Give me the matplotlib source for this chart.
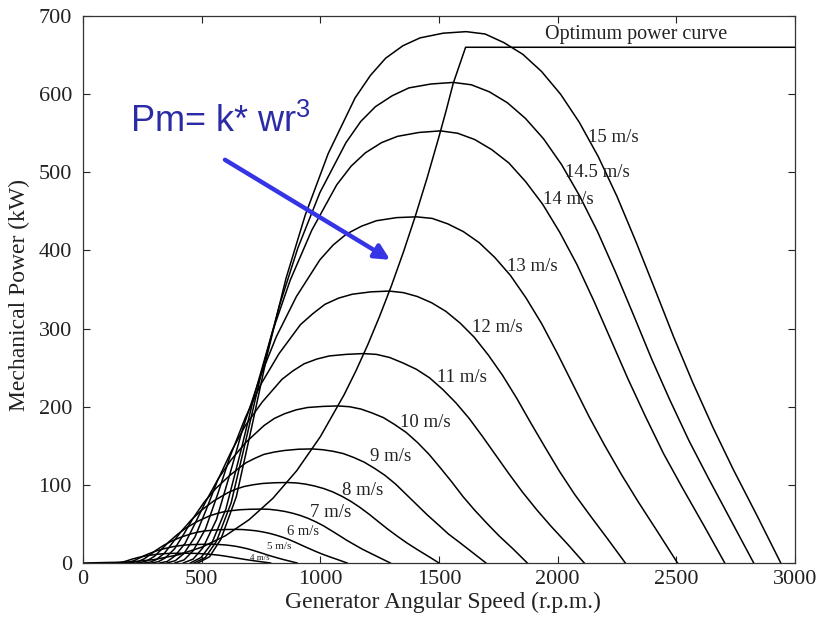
import matplotlib
matplotlib.use('Agg')
import matplotlib.pyplot as plt

plt.rcParams['font.family'] = ['Liberation Serif', 'DejaVu Serif']
plt.rcParams['mathtext.fontset'] = 'custom'
plt.rcParams['mathtext.rm'] = 'Liberation Sans'
plt.rcParams['mathtext.default'] = 'regular'

# power curves: rpm -> kW, one pair of lists per wind speed
rpm_15 = [484, 533, 581, 646, 710, 775, 855, 936, 1033, 1146, 1211, 1275, 1348, 1420, 1517, 1614,
          1694, 1773, 1853, 1932, 2012, 2091, 2171, 2250, 2330, 2410, 2489, 2569, 2655, 2741, 2841, 2940]
kw_15 = [0, 8, 30.6, 85, 173, 265, 364, 445, 524, 595, 624, 646, 662, 672, 678, 680,
         677, 666, 651, 629, 600, 564, 520, 469, 411, 350, 289, 231, 173, 119, 60, 0]

rpm_145 = [468, 515, 562, 624, 686, 749, 827, 905, 998, 1108, 1170, 1232, 1303, 1373, 1466, 1560,
           1636, 1712, 1788, 1864, 1940, 2016, 2092, 2168, 2244, 2320, 2396, 2472, 2554, 2636, 2731, 2826]
kw_145 = [0, 7, 27.7, 76.9, 157, 240, 329, 403, 474, 538, 565, 584, 598, 608, 613, 615,
          612, 603, 589, 569, 543, 510, 470, 424, 372, 317, 261, 209, 156, 108, 54, 0]

rpm_14 = [452, 497, 542, 602, 663, 723, 798, 873, 964, 1069, 1130, 1190, 1258, 1325, 1416, 1506,
          1578, 1650, 1722, 1794, 1865, 1937, 2009, 2081, 2153, 2225, 2297, 2369, 2446, 2524, 2614, 2704]
kw_14 = [0, 7, 24.9, 69.1, 141, 216, 296, 362, 426, 484, 508, 525, 538, 546, 551, 553,
         550, 542, 529, 512, 488, 459, 423, 382, 335, 285, 235, 188, 140, 97, 49, 0]

rpm_13 = [422, 464, 506, 562, 618, 674, 745, 815, 899, 998, 1054, 1110, 1173, 1236, 1321, 1405,
          1471, 1537, 1603, 1669, 1735, 1801, 1867, 1933, 1999, 2065, 2131, 2197, 2269, 2340, 2423, 2505]
kw_13 = [0, 5, 19.9, 55.4, 113, 173, 237, 290, 341, 388, 407, 421, 431, 438, 442, 443,
         441, 434, 424, 410, 391, 368, 339, 306, 268, 228, 188, 151, 113, 78, 39, 0]

rpm_12 = [387, 426, 464, 516, 568, 619, 684, 748, 826, 916, 968, 1019, 1077, 1135, 1213, 1290,
          1350, 1409, 1469, 1529, 1589, 1648, 1708, 1768, 1827, 1887, 1947, 2006, 2071, 2136, 2210, 2285]
kw_12 = [0, 4, 15.7, 43.5, 88.7, 136, 186, 228, 268, 305, 319, 331, 339, 344, 347, 348,
         346, 341, 333, 322, 307, 289, 266, 240, 211, 179, 148, 118, 88, 61, 31, 0]

rpm_11 = [354, 389, 425, 472, 519, 566, 625, 684, 755, 838, 885, 932, 985, 1038, 1109, 1180,
          1236, 1292, 1348, 1404, 1460, 1516, 1571, 1627, 1683, 1739, 1795, 1851, 1912, 1972, 2042, 2112]
kw_11 = [0, 3, 12.1, 33.5, 68.3, 105, 143, 176, 206, 235, 246, 255, 261, 265, 267, 268,
         267, 263, 256, 248, 237, 222, 205, 185, 162, 138, 114, 91, 68, 47, 24, 0]

rpm_10 = [323, 355, 387, 430, 473, 516, 570, 624, 688, 763, 806, 849, 898, 946, 1011, 1075,
          1123, 1171, 1218, 1266, 1314, 1362, 1410, 1458, 1505, 1553, 1601, 1649, 1701, 1752, 1812, 1872]
kw_10 = [0, 2, 9.0, 25.1, 51.3, 78, 108, 132, 155, 176, 185, 191, 196, 199, 200.4, 201,
         200, 197, 192, 186, 177, 167, 154, 139, 122, 104, 85, 68, 51, 35, 18, 0]

rpm_9 = [290, 318, 347, 386, 425, 463, 511, 560, 618, 685, 724, 762, 806, 849, 907, 965,
         1009, 1053, 1097, 1141, 1185, 1229, 1273, 1317, 1361, 1405, 1449, 1493, 1540, 1588, 1643, 1698]
kw_9 = [0, 1.8, 6.6, 18.3, 37.2, 57, 78.1, 95.6, 112, 128, 134, 139, 142, 144, 145.6, 146,
        145, 143, 140, 135, 129, 121, 112, 101, 88, 75, 62, 50, 37, 26, 13, 0]

rpm_8 = [258, 284, 310, 344, 378, 413, 456, 499, 550, 611, 645, 679, 718, 757, 808, 860,
         898, 937, 975, 1014, 1052, 1090, 1129, 1167, 1206, 1244, 1282, 1321, 1362, 1404, 1452, 1500]
kw_8 = [0, 1.2, 4.6, 12.9, 26.3, 40.2, 55.1, 67.5, 79.3, 90.1, 94.6, 97.9, 100.2, 101.8, 102.7, 103,
        102.5, 101, 98.6, 95.3, 91, 85.5, 78.8, 71.1, 62.3, 53, 43.8, 35, 26.2, 18, 9.1, 0]

rpm_7 = [226, 248, 271, 301, 331, 361, 399, 436, 481, 534, 564, 594, 628, 662, 707, 752,
         785, 817, 850, 882, 915, 947, 980, 1013, 1045, 1078, 1110, 1143, 1178, 1214, 1254, 1295]
kw_7 = [0, 0.8, 3.1, 8.6, 17.6, 26.9, 36.9, 45.2, 53.1, 60.4, 63.3, 65.6, 67.1, 68.2, 68.8, 69,
        68.7, 67.6, 66, 63.8, 60.9, 57.3, 52.8, 47.6, 41.7, 35.5, 29.3, 23.5, 17.5, 12.1, 6.1, 0]

rpm_6 = [194, 232, 258, 284, 310, 342, 374, 413, 458, 484, 510, 539, 568, 606, 645,
         673, 701, 729, 757, 785, 813, 842, 870, 898, 926, 954, 982, 1012, 1043, 1078, 1113]
kw_6 = [0, 1.9, 5.4, 11, 16.8, 23, 28.2, 33.1, 37.6, 39.5, 40.9, 41.8, 42.5, 42.9, 43,
        42.8, 42.1, 41.2, 39.8, 38, 35.7, 32.9, 29.7, 26, 22.1, 18.3, 14.6, 10.9, 7.5, 3.8, 0]

rpm_5 = [161, 193, 215, 236, 258, 285, 311, 344, 381, 403, 424, 448, 473, 505, 537,
         559, 581, 603, 625, 647, 668, 690, 712, 734, 756, 778, 800, 824, 847, 875, 902]
kw_5 = [0, 1.1, 3, 6.1, 9.4, 12.8, 15.7, 18.5, 21, 22, 22.8, 23.4, 23.7, 23.9, 24,
        23.9, 23.5, 23, 22.2, 21.2, 19.9, 18.4, 16.6, 14.5, 12.4, 10.2, 8.2, 6.1, 4.2, 2.1, 0]

rpm_4 = [129, 155, 172, 189, 206, 228, 249, 275, 305, 323, 340, 359, 378, 404, 430,
         452, 473, 495, 516, 538, 560, 581, 603, 624, 646, 668, 689, 713, 736, 763, 790]
kw_4 = [0, 0.56, 1.6, 3.2, 4.9, 6.7, 8.2, 9.6, 10.9, 11.5, 11.9, 12.2, 12.35, 12.46, 12.5,
        12.45, 12.3, 12, 11.6, 11, 10.4, 9.6, 8.6, 7.6, 6.4, 5.3, 4.25, 3.2, 2.2, 1.1, 0]

# optimum power curve (cubic rise through the peaks, then capped)
rpm_opt = [0, 200, 300, 400, 500, 600, 700, 800, 900, 1000, 1100, 1150, 1200, 1250, 1300,
           1350, 1400, 1450, 1500, 1530, 1560, 1612, 3000]
kw_opt = [0, 1.3, 4.4, 10.4, 20.2, 34.9, 55.5, 82.8, 118, 161.7, 215.3, 246, 279.5, 316, 355.3,
          398, 443.8, 493, 545.8, 579, 614, 660, 660]

speed_labels = ['15 m/s', '14.5 m/s', '14 m/s', '13 m/s', '12 m/s', '11 m/s', '10 m/s',
                '9 m/s', '8 m/s', '7 m/s', '6 m/s', '5 m/s', '4 m/s']

curves = [(rpm_15, kw_15), (rpm_145, kw_145), (rpm_14, kw_14), (rpm_13, kw_13),
          (rpm_12, kw_12), (rpm_11, kw_11), (rpm_10, kw_10), (rpm_9, kw_9),
          (rpm_8, kw_8), (rpm_7, kw_7), (rpm_6, kw_6), (rpm_5, kw_5), (rpm_4, kw_4)]

# label anchors (left, centre) and sizes
label_pos = [(2128, 544), (2031, 500), (1938, 465), (1787, 379), (1639, 302),
             (1492, 238), (1336, 180), (1209, 136), (1091, 93), (957, 65),
             (860, 40), (775, 20.5), (704, 6.4)]
label_size = [13.5, 13.5, 13.5, 13.5, 13.5, 13.5, 13.5, 13.5, 13.5, 13.5, 10.5, 8, 6.5]

fig = plt.figure(figsize=(8.23, 6.23), dpi=100, facecolor='white')
ax = fig.add_axes([0.1009, 0.0963, 0.8651, 0.8780])

for (x, y) in curves:
    ax.plot(x, y, color='black', lw=1.1, solid_joinstyle='round')
ax.plot(rpm_opt, kw_opt, color='black', lw=1.1)

for lab, (lx, ly), fs in zip(speed_labels, label_pos, label_size):
    ax.text(lx, ly, lab, fontsize=fs, ha='left', va='center', color='#222222')

ax.text(2332, 671, 'Optimum power curve', fontsize=14.5, ha='center',
        va='baseline', color='#222222')

# blue annotation
ax.text(198, 552, 'Pm= k* wr$^{3}$', fontsize=26, color='#2b2ba6',
        family=['Liberation Sans', 'DejaVu Sans'], ha='left', va='baseline')
ax.annotate('', xy=(1294, 388), xytext=(598, 516),
            arrowprops=dict(arrowstyle='-|>,head_length=0.9,head_width=0.45',
                            color='#3535e6', lw=3.2, shrinkA=0, shrinkB=0))

ax.set_xlim(0, 3000)
ax.set_ylim(0, 700)
ax.set_xticks(range(0, 3001, 500))
ax.set_yticks(range(0, 701, 100))
ax.tick_params(direction='in', top=True, right=True, length=5, width=0.8,
               labelsize=16, colors='#222222')
ax.tick_params(axis='x', pad=5)
ax.tick_params(axis='y', pad=8)
for s in ax.spines.values():
    s.set_linewidth(0.9)
    s.set_color('#333333')

ax.set_xlabel('Generator Angular Speed (r.p.m.)', fontsize=17, color='#222222')
ax.set_ylabel('Mechanical Power (kW)', fontsize=17, color='#222222')
ax.xaxis.set_label_coords(0.506, -0.052)
ax.yaxis.set_label_coords(-0.075, 0.49)

fig.savefig('out.png', dpi=100, facecolor='white')
